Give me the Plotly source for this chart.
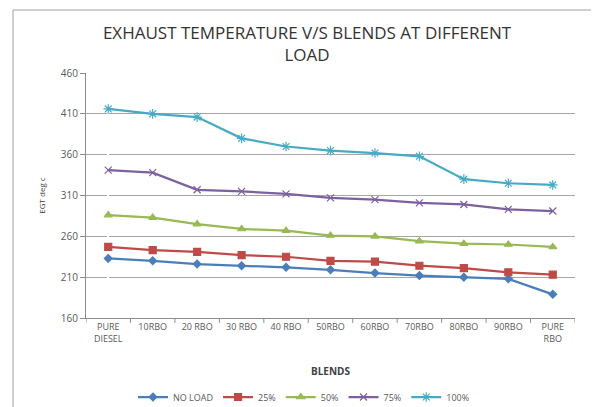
import plotly.graph_objects as go

blends = ["PURE<br>DIESEL", "10RBO", "20 RBO", "30 RBO", "40 RBO", "50RBO",
          "60RBO", "70RBO", "80RBO", "90RBO", "PURE<br>RBO"]
no_load = [233, 230, 226, 224, 222, 219, 215, 212, 210, 208, 189]
load_25 = [247, 243, 241, 237, 235, 230, 229, 224, 221, 216, 213]
load_50 = [286, 283, 275, 269, 267, 261, 260, 254, 251, 250, 247]
load_75 = [341, 338, 317, 315, 312, 307, 305, 301, 299, 293, 291]
load_100 = [416, 410, 406, 380, 370, 365, 362, 358, 330, 325, 323]
y_ticks = [160, 210, 260, 310, 360, 410, 460]

series = [
    ("NO LOAD", no_load, "#4A7EBB", "diamond", 6),
    ("25%", load_25, "#BE4B48", "square", 7),
    ("50%", load_50, "#98B954", "triangle-up", 7),
    ("75%", load_75, "#7D60A0", "x-thin-open", 7),
    ("100%", load_100, "#46AAC5", "asterisk-open", 8),
]

fig = go.Figure()
xs = list(range(len(blends)))
for name, vals, col, sym, sz in series:
    fig.add_trace(go.Scatter(
        x=xs, y=vals, name=name, mode="lines+markers",
        line=dict(color=col, width=2.25),
        marker=dict(symbol=sym, size=sz, color=col,
                    line=dict(color=col, width=1.2)),
    ))

# page has an 8px body margin; figure sized so it fits the 599x407 window
W, H = 591, 399
L, R, T, B = 78, 24, 65, 89
PW, PH = W - L - R, H - T - B
font_fam = "Open Sans, Liberation Sans, sans-serif"
fig.update_layout(
    width=W, height=H,
    margin=dict(l=L, r=R, t=T, b=B, autoexpand=False),
    paper_bgcolor="white", plot_bgcolor="white",
    font=dict(family=font_fam, size=9, color="#595959"),
    title=dict(text="EXHAUST TEMPERATURE V/S BLENDS AT DIFFERENT<br>LOAD",
               x=(307 - 8) / W, xanchor="center", xref="container",
               y=1 - 31 / H, yanchor="top", yref="container",
               font=dict(family=font_fam, size=17, color="#333333")),
    showlegend=True,
    legend=dict(orientation="h", x=(304 - 8 - L) / PW, xanchor="center",
                yref="container", y=1 - 389 / H, yanchor="middle",
                font=dict(size=9, color="#595959"), tracegroupgap=0),
    xaxis=dict(
        tickmode="array", tickvals=xs, ticktext=blends,
        range=[-0.5, 10.5], showgrid=False, automargin=False,
        showline=True, linecolor="#8c8c8c", linewidth=1,
        ticks="", tickfont=dict(size=9, color="#595959"),
        title=dict(text="<b>BLENDS</b>", font=dict(size=10, color="#404040"),
                   standoff=24),
    ),
    yaxis=dict(
        range=[160, 460], tickvals=y_ticks, automargin=False,
        showgrid=True, gridcolor="#a6a6a6", gridwidth=1,
        showline=True, linecolor="#8c8c8c", linewidth=1,
        ticks="outside", ticklen=5, tickcolor="#8c8c8c",
        zeroline=False, tickfont=dict(size=10, color="#595959"),
        title=dict(text="EGT deg c", font=dict(size=8, color="#404040"),
                   standoff=14),
    ),
)

# category-boundary tick marks on x axis
for i in range(len(blends) + 1):
    fig.add_shape(type="line", xref="x", yref="paper",
                  x0=i - 0.5, x1=i - 0.5, y0=0, y1=-0.02,
                  line=dict(color="#8c8c8c", width=1))

# chart frame
fig.add_shape(type="rect", xref="paper", yref="paper",
              x0=(5 - L) / PW, x1=(595 - L) / PW,
              y0=(PH + T - 402) / PH, y1=(PH + T - 2) / PH,
              line=dict(color="#a0a0a0", width=1), layer="below")

fig.write_html("out.html")
